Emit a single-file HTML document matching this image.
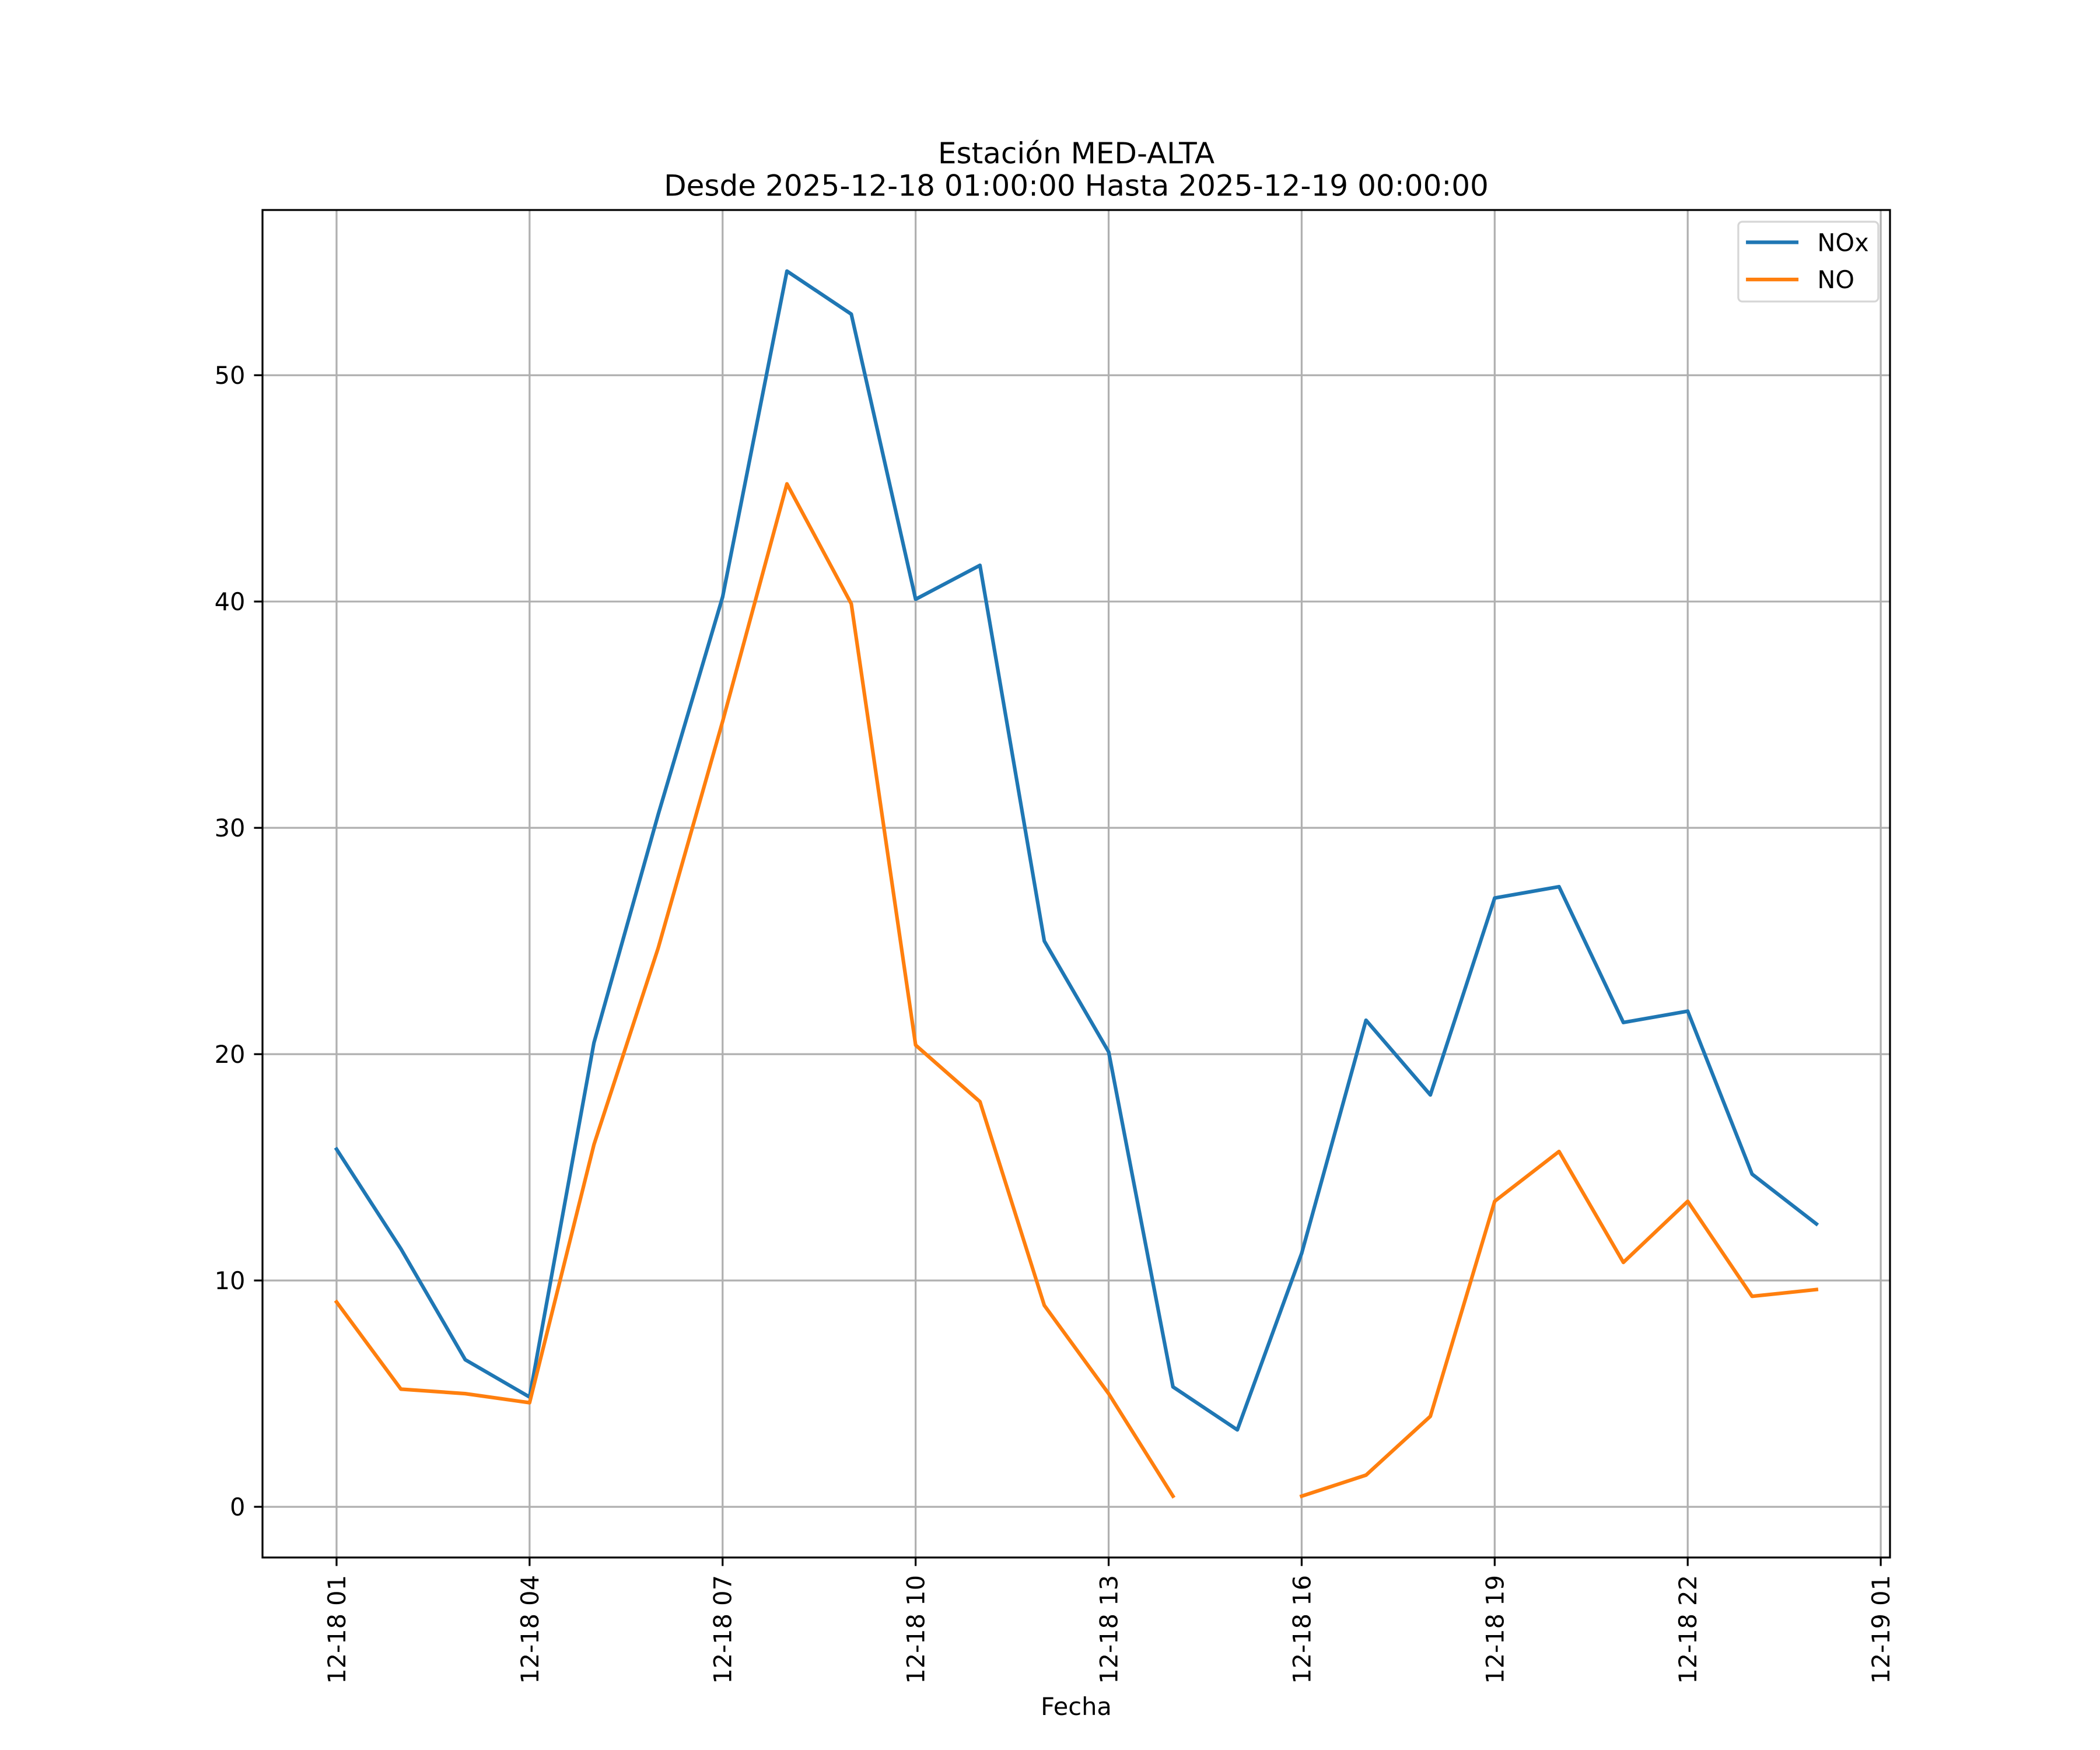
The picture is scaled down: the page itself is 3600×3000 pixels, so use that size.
<!DOCTYPE html>
<html><head><meta charset="utf-8"><style>html,body{margin:0;padding:0;background:#fff}svg{display:block}text{font-family:"DejaVu Sans","Liberation Sans",sans-serif;fill:#000}</style></head>
<body>
<svg id="chart" width="3600" height="3000" viewBox="0 0 1560 1300" xmlns="http://www.w3.org/2000/svg">
<rect width="1560" height="1300" fill="#fff"/>
<text x="799.5" y="121.4" font-size="21.7" text-anchor="middle">Estación MED-ALTA</text>
<text x="799.5" y="145.3" font-size="21.7" text-anchor="middle">Desde 2025-12-18 01:00:00 Hasta 2025-12-19 00:00:00</text>
<g id="grid"></g>
<g id="series"></g>
<rect x="195" y="156" width="1209" height="1001" fill="none" stroke="#000" stroke-width="1.4"/>
<g id="ticks"></g>
<text x="799.5" y="1274" font-size="18" text-anchor="middle">Fecha</text>
<g>
<rect x="1291.3" y="164.7" width="104" height="59.3" rx="3" fill="#fff" fill-opacity="0.8" stroke="#d6d6d6" stroke-width="1.4"/>
<line x1="1297" y1="180" x2="1336" y2="180" stroke="#1f77b4" stroke-width="2.7"/>
<text x="1350" y="186.5" font-size="18">NOx</text>
<line x1="1297" y1="207.6" x2="1336" y2="207.6" stroke="#ff7f0e" stroke-width="2.7"/>
<text x="1350" y="214" font-size="18">NO</text>
</g>
</svg>
<script>
const hours = [1,2,3,4,5,6,7,8,9,10,11,12,13,14,15,16,17,18,19,20,21,22,23,24];
const noxValues = [15.8,11.4,6.5,4.85,20.5,30.6,40.2,54.6,52.7,40.1,41.6,25.0,20.1,5.3,3.4,11.2,21.5,18.2,26.9,27.4,21.4,21.9,14.7,12.5];
const noValues = [9.05,5.2,5.0,4.6,16.0,24.7,34.7,45.2,39.9,20.4,17.9,8.9,5.0,0.47,null,0.47,1.4,4.0,13.5,15.7,10.8,13.5,9.3,9.6];
const yTicks = [0,10,20,30,40,50];
const xTickHours = [1,4,7,10,13,16,19,22,25];
const xTickLabels = ["12-18 01","12-18 04","12-18 07","12-18 10","12-18 13","12-18 16","12-18 19","12-18 22","12-19 01"];

const L=195,R=1404,T=156,B=1157;
const xMin=-0.151,xMax=25.144,yMin=-2.24,yMax=57.30;
function xs(h){return L+(h-xMin)/(xMax-xMin)*(R-L);}
function ys(v){return B-(v-yMin)/(yMax-yMin)*(B-T);}
const NS="http://www.w3.org/2000/svg";
function mk(tag,attrs,parent){const e=document.createElementNS(NS,tag);for(const k in attrs)e.setAttribute(k,attrs[k]);parent.appendChild(e);return e;}
const grid=document.getElementById('grid'),ticks=document.getElementById('ticks'),series=document.getElementById('series');

yTicks.forEach(v=>{
  const y=ys(v);
  const g=mk('line',{x1:L,x2:R,y1:y,y2:y,stroke:'#b0b0b0','stroke-width':1.4},grid);
  
  
  const t=mk('line',{x1:L-6.3,x2:L,y1:y,y2:y,stroke:'#000','stroke-width':1.4},ticks);
  
  
  const tx=mk('text',{x:L-12.8,y:y+6.5,'font-size':18,'text-anchor':'end'},ticks);
  tx.textContent=v;
  
  
});
xTickHours.forEach((h,i)=>{
  const x=xs(h);
  const g=mk('line',{x1:x,x2:x,y1:T,y2:B,stroke:'#b0b0b0','stroke-width':1.4},grid);
  
  
  const t=mk('line',{x1:x,x2:x,y1:B,y2:B+6.3,stroke:'#000','stroke-width':1.4},ticks);
  
  
  const tx=mk('text',{x:0,y:0,'font-size':18,'text-anchor':'end',transform:`translate(${x+6.5},${B+13}) rotate(-90)`},ticks);
  tx.textContent=xTickLabels[i];
  
  
});
function drawSeries(vals,color,name){
  let segs=[],cur=[];
  vals.forEach((v,i)=>{if(v===null){if(cur.length)segs.push(cur);cur=[];}else cur.push(xs(hours[i]).toFixed(2)+','+ys(v).toFixed(2));});
  if(cur.length)segs.push(cur);
  segs.forEach(s=>{
    const p=mk('polyline',{points:s.join(' '),fill:'none',stroke:color,'stroke-width':2.7,'stroke-linejoin':'round','stroke-linecap':'square'},series);
    
    
  });
}
drawSeries(noxValues,'#1f77b4','nox-line');
drawSeries(noValues,'#ff7f0e','no-line');
</script>
</body></html>
